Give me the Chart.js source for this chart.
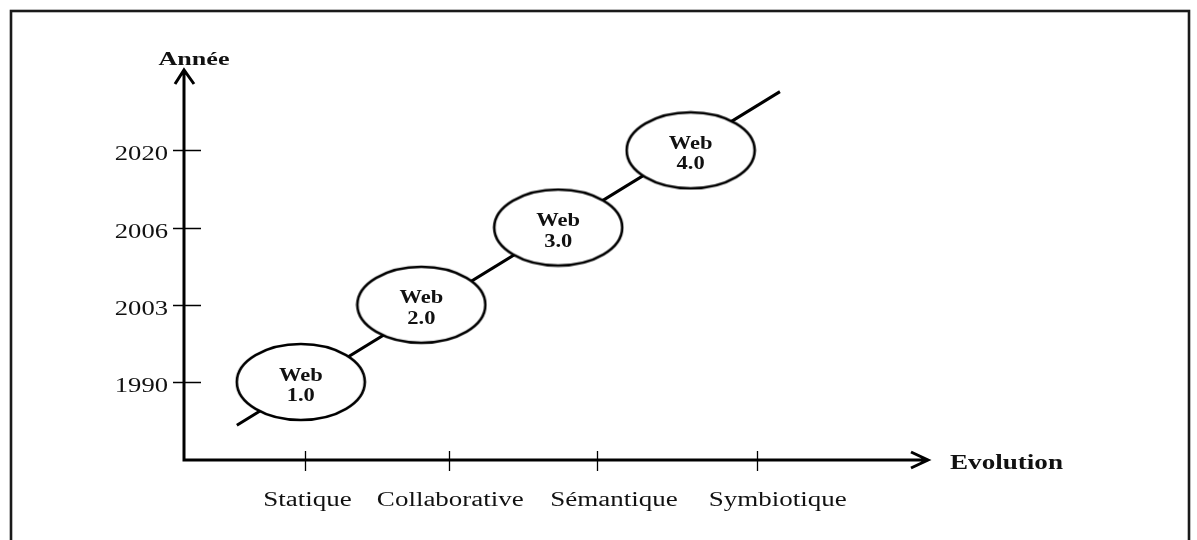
<!DOCTYPE html>
<html>
<head>
<meta charset="utf-8">
<script src="https://cdn.jsdelivr.net/npm/chart.js@4"></script>
<style>
  html, body { margin: 0; padding: 0; background: #fff; }
  #wrap { width: 1197px; height: 540px; }
</style>
</head>
<body>
<div id="wrap"><canvas id="webChart" width="1197" height="540"></canvas></div>
<script>
// axis categories and tick labels
const stages = ["Statique", "Collaborative", "Sémantique", "Symbiotique"];
const stageTicks = [1.63, 3.56, 5.55, 7.7];
const stageLabelPos = [1.66, 3.58, 5.78, 7.98];
const years = ["1990", "2003", "2006", "2020"];

// the four web generations (x = evolution, y = index into years)
const webNames = ["Web 1.0", "Web 2.0", "Web 3.0", "Web 4.0"];
const webX = [1.57, 3.19, 5.03, 6.81];
const webY = [0, 1, 2, 3];

// trend line through them
const trendX = [0.71, 8.01];
const trendY = [-0.56, 3.76];

const serif = '"Liberation Serif", "Times New Roman", serif';

function makeEllipse(w, h) {
  const c = document.createElement("canvas");
  c.width = w;
  c.height = h;
  const g = c.getContext("2d");
  g.beginPath();
  g.ellipse(w / 2, h / 2, w / 2 - 2, h / 2 - 2, 0, 0, Math.PI * 2);
  g.fillStyle = "#fff";
  g.fill();
  g.lineWidth = 2.6;
  g.strokeStyle = "#000";
  g.stroke();
  return c;
}

// text in the reference is stretched sideways
function stretchText(ctx, text, x, y, align, stretch) {
  ctx.save();
  ctx.translate(x, y);
  ctx.scale(stretch, 1);
  ctx.textAlign = align;
  ctx.textBaseline = "alphabetic";
  ctx.fillText(text, 0, 0);
  ctx.restore();
}

const axesPlugin = {
  id: "axesPlugin",
  beforeDatasetsDraw(chart) {
    const ctx = chart.ctx;
    const xs = chart.scales.x;
    const ys = chart.scales.y;
    const a = chart.chartArea;

    ctx.save();
    // outer frame
    ctx.strokeStyle = "#1a1a1a";
    ctx.lineWidth = 2.6;
    ctx.strokeRect(11, 11, 1178, 600);

    // axes with open arrow heads
    ctx.strokeStyle = "#000";
    ctx.lineWidth = 3;
    ctx.lineJoin = "miter";
    ctx.beginPath();
    ctx.moveTo(a.left, a.bottom);
    ctx.lineTo(a.left, a.top);
    ctx.moveTo(a.left - 9, a.top + 14);
    ctx.lineTo(a.left, a.top);
    ctx.lineTo(a.left + 10, a.top + 14);
    ctx.moveTo(a.left - 1.5, a.bottom);
    ctx.lineTo(a.right, a.bottom);
    ctx.moveTo(a.right - 17, a.bottom - 8);
    ctx.lineTo(a.right, a.bottom);
    ctx.lineTo(a.right - 17, a.bottom + 8);
    ctx.stroke();

    // tick marks
    ctx.lineWidth = 1.3;
    ctx.beginPath();
    years.forEach((y, i) => {
      const py = Math.round(ys.getPixelForValue(i)) + 0.5;
      ctx.moveTo(a.left - 11, py);
      ctx.lineTo(a.left + 17, py);
    });
    stageTicks.forEach((v) => {
      const px = Math.round(xs.getPixelForValue(v)) + 0.5;
      ctx.moveTo(px, a.bottom - 9);
      ctx.lineTo(px, a.bottom + 11);
    });
    ctx.stroke();

    // tick labels
    ctx.fillStyle = "#111";
    ctx.font = "20px " + serif;
    years.forEach((y, i) => {
      stretchText(ctx, y, a.left - 16, ys.getPixelForValue(i) + 10, "right", 1.33);
    });
    stages.forEach((s, i) => {
      stretchText(ctx, s, xs.getPixelForValue(stageLabelPos[i]), 506, "center", 1.35);
    });

    // axis titles
    ctx.font = "bold 18px " + serif;
    stretchText(ctx, "Année", a.left + 10, a.top - 5, "center", 1.45);
    ctx.font = "bold 20px " + serif;
    stretchText(ctx, "Evolution", a.right + 22, a.bottom + 9, "left", 1.355);
    ctx.restore();
  },
  afterDatasetsDraw(chart) {
    const ctx = chart.ctx;
    const meta = chart.getDatasetMeta(1);
    ctx.save();
    ctx.fillStyle = "#111";
    ctx.font = "bold 18px " + serif;
    meta.data.forEach((pt, i) => {
      const parts = webNames[i].split(" ");
      stretchText(ctx, parts[0], pt.x, pt.y - 1.5, "center", 1.25);
      stretchText(ctx, parts[1], pt.x, pt.y + 19, "center", 1.25);
    });
    ctx.restore();
  }
};

const ellipseImg = makeEllipse(132, 80);

new Chart(document.getElementById("webChart"), {
  type: "scatter",
  data: {
    datasets: [
      {
        label: "trend",
        data: trendX.map((x, i) => ({ x: x, y: trendY[i] })),
        showLine: true,
        borderColor: "#000",
        borderWidth: 3,
        pointRadius: 0,
        order: 2,
      },
      {
        label: "web",
        data: webX.map((x, i) => ({ x: x, y: webY[i] })),
        pointStyle: ellipseImg,
        pointRadius: 10,
        order: 1,
      },
    ],
  },
  plugins: [axesPlugin],
  options: {
    responsive: false,
    animation: false,
    events: [],
    layout: { padding: { top: 70, right: 269, left: 0, bottom: 0 } },
    plugins: { legend: { display: false }, tooltip: { enabled: false } },
    scales: {
      x: {
        type: "linear",
        min: 0,
        max: 10,
        grid: { display: false, drawTicks: false },
        border: { display: false },
        ticks: { display: false },
        afterBuildTicks: (s) => { s.ticks = stageTicks.map((v) => ({ value: v })); },
        afterFit: (s) => { s.height = 80; },
      },
      y: {
        type: "linear",
        min: -1.01,
        max: 4.04,
        grid: { display: false, drawTicks: false },
        border: { display: false },
        ticks: { display: false },
        afterBuildTicks: (s) => { s.ticks = years.map((y, i) => ({ value: i })); },
        afterFit: (s) => { s.width = 184; },
      },
    },
  },
});
</script>
</body>
</html>
